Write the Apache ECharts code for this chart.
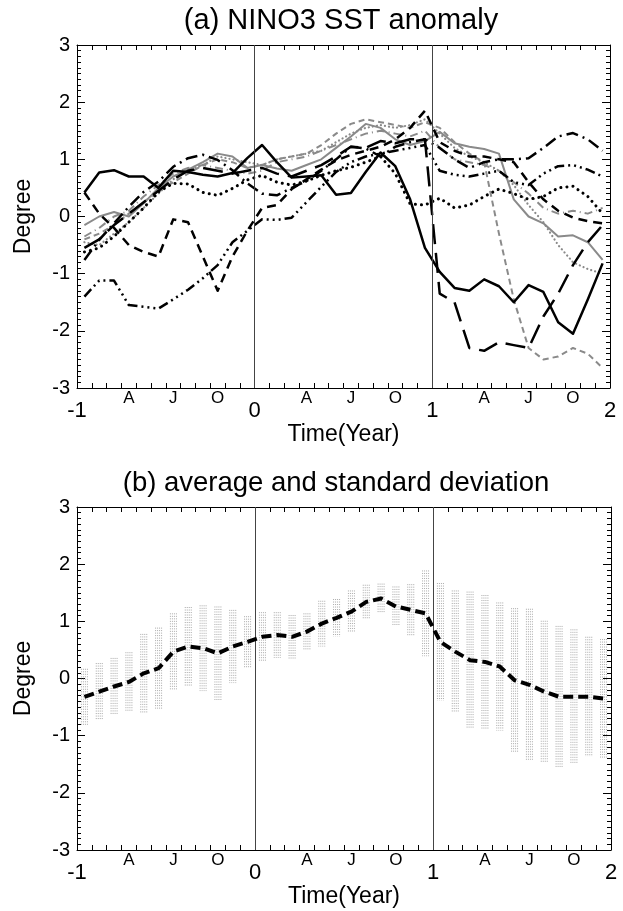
<!DOCTYPE html>
<html>
<head>
<meta charset="utf-8">
<script src="https://cdn.jsdelivr.net/npm/echarts@6/dist/echarts.min.js"></script>
<style>
html,body{margin:0;padding:0;background:#fff;}
#chart{width:623px;height:911px;}
</style>
</head>
<body>
<div id="chart"></div>
<script>
// ---------- data (monthly, 36 months from Jan of year -1) ----------
const yearLabels = ['-1', '0', '1', '2'];
const monthLabels = { 3.5: 'A', 6.5: 'J', 9.5: 'O' };
const yearBoundaries = [12, 24];

// (a) individual events
const solidBlack = [0.42,0.77,0.81,0.70,0.70,0.50,0.80,0.78,0.73,0.70,0.76,1.02,1.25,0.95,0.68,0.70,0.72,0.38,0.41,0.78,1.12,0.88,0.30,-0.55,-0.97,-1.25,-1.30,-1.10,-1.22,-1.50,-1.20,-1.32,-1.85,-2.05,-1.45,-0.82];
const dashedBlack = [0.42,0.05,-0.20,-0.50,-0.62,-0.70,-0.05,-0.10,-0.70,-1.30,-0.70,-0.25,0.15,0.20,0.48,0.65,0.82,0.98,1.08,1.15,1.22,1.35,1.55,1.85,1.30,1.15,1.05,1.05,1.00,0.95,0.60,0.30,0.10,-0.02,-0.08,-0.12];
const dottedBlack = [-0.62,-0.55,-0.35,-0.10,0.15,0.43,0.58,0.57,0.42,0.37,0.49,0.64,0.72,0.60,0.55,0.62,0.72,0.80,0.86,0.95,1.05,0.75,0.22,0.20,0.32,0.15,0.20,0.35,0.48,0.40,0.30,0.35,0.50,0.53,0.35,0.05];
const dashDotBlack = [-0.76,-0.41,-0.12,0.17,0.43,0.61,0.87,1.02,1.08,0.99,0.81,0.58,0.40,0.37,0.50,0.62,0.80,1.00,1.22,1.19,1.05,1.22,1.30,1.35,1.20,1.00,0.85,0.95,1.00,1.00,1.02,1.20,1.40,1.46,1.35,1.15];
const dashDotDotBlack = [-1.40,-1.12,-1.12,-1.55,-1.58,-1.61,-1.45,-1.28,-1.08,-0.85,-0.45,-0.25,-0.05,-0.06,-0.02,0.25,0.52,0.78,0.95,1.05,1.10,1.15,1.20,1.25,0.80,0.73,0.70,0.75,0.80,0.60,0.55,0.75,0.88,0.90,0.82,0.70];
const longDashBlack = [-0.55,-0.40,-0.15,0.05,0.25,0.45,0.65,0.80,0.85,0.80,0.75,0.80,0.85,0.75,0.70,0.80,0.90,1.05,1.22,1.20,1.32,1.28,1.35,1.35,-1.35,-1.50,-2.30,-2.35,-2.20,-2.25,-2.30,-1.75,-1.35,-0.85,-0.45,-0.15];
const solidGray = [-0.15,0.00,0.08,0.00,0.23,0.50,0.70,0.82,0.95,1.10,1.05,0.85,0.90,0.84,0.80,0.90,1.00,1.20,1.40,1.62,1.55,1.35,1.25,1.32,1.48,1.28,1.22,1.18,1.10,0.30,0.00,-0.12,-0.35,-0.33,-0.45,-0.76];
const dashedGray = [-0.40,-0.30,-0.15,0.05,0.25,0.45,0.60,0.75,0.90,1.00,0.95,0.85,0.90,1.00,1.05,1.10,1.25,1.45,1.62,1.70,1.65,1.60,1.55,1.65,1.55,1.30,1.10,0.95,-0.30,-1.45,-2.30,-2.50,-2.45,-2.30,-2.40,-2.65];
const dottedGray = [-0.45,-0.50,-0.30,-0.10,0.15,0.40,0.65,0.80,0.90,1.05,1.00,0.95,0.90,1.00,1.05,1.10,1.15,1.30,1.45,1.55,1.60,1.55,1.60,1.70,1.45,1.20,1.05,0.95,0.80,0.55,0.20,-0.10,-0.50,-0.80,-0.92,-1.00];
const dashDotGray = [-0.35,-0.20,0.00,0.10,0.35,0.55,0.75,0.85,0.90,0.85,0.80,0.75,0.80,0.95,1.00,1.05,1.15,1.25,1.35,1.45,1.50,1.45,1.40,1.50,1.20,1.00,0.95,0.90,0.80,0.60,0.40,0.15,0.05,0.10,0.05,0.15];

// (b) composite mean and standard deviation
const meanAnom = [-0.32,-0.23,-0.14,-0.06,0.09,0.18,0.47,0.56,0.53,0.44,0.56,0.64,0.73,0.76,0.73,0.82,0.96,1.06,1.17,1.34,1.40,1.26,1.20,1.14,0.64,0.47,0.32,0.29,0.21,-0.03,-0.11,-0.23,-0.32,-0.32,-0.32,-0.35];
const stdAnom = [0.49,0.50,0.50,0.52,0.69,0.71,0.67,0.69,0.75,0.82,0.64,0.45,0.43,0.40,0.38,0.32,0.40,0.33,0.37,0.30,0.26,0.35,0.45,0.75,1.03,1.07,1.20,1.17,1.12,1.26,1.33,1.24,1.24,1.18,1.05,1.04];

// ---------- layout ----------
const FONT = 'Liberation Sans, Arial, Helvetica, sans-serif';
const toPts = arr => arr.map((v, i) => [i + 0.5, v]);

const grids = [
  { left: 77, top: 45, width: 533, height: 343 },
  { left: 77, top: 507, width: 534, height: 343 }
];

const xAxes = [], yAxes = [];
grids.forEach((g, gi) => {
  xAxes.push({ gridIndex: gi, type: 'value', min: 0, max: 36, interval: 1, position: 'bottom',
    axisLine: { show: true, onZero: false, lineStyle: { color: '#000', width: 1 } },
    axisTick: { show: true, inside: true, length: 5, lineStyle: { color: '#000', width: 1 } },
    axisLabel: { show: false }, splitLine: { show: false } });
  xAxes.push({ gridIndex: gi, type: 'value', min: 0, max: 36, interval: 1, position: 'top',
    axisLine: { show: true, onZero: false, lineStyle: { color: '#000', width: 1 } },
    axisTick: { show: true, inside: true, length: 5, lineStyle: { color: '#000', width: 1 } },
    axisLabel: { show: false }, splitLine: { show: false } });
  xAxes.push({ gridIndex: gi, type: 'value', min: 0, max: 36, interval: 12, position: 'bottom',
    axisLine: { show: false }, axisTick: { show: false }, splitLine: { show: false },
    axisLabel: { show: true, margin: 12, fontSize: 22, color: '#000', fontFamily: FONT,
      formatter: v => yearLabels[Math.round(v / 12)] },
    name: 'Time(Year)', nameLocation: 'middle', nameGap: 35,
    nameTextStyle: { fontSize: 23, color: '#000', fontFamily: FONT } });
  xAxes.push({ gridIndex: gi, type: 'value', min: 0, max: 36, interval: 0.5, position: 'bottom',
    axisLine: { show: false }, axisTick: { show: false }, splitLine: { show: false },
    axisLabel: { show: true, margin: 2, fontSize: 17, color: '#000', fontFamily: FONT,
      formatter: v => { const m = Math.round((v % 12) * 2) / 2; return monthLabels[m] || ''; } } });

  yAxes.push({ gridIndex: gi, type: 'value', min: -3, max: 3, interval: 1, position: 'left',
    axisLine: { show: true, onZero: false, lineStyle: { color: '#000', width: 1 } },
    axisTick: { show: true, inside: true, length: 8, lineStyle: { color: '#000', width: 1 } },
    minorTick: { show: true, splitNumber: 10, length: 4, lineStyle: { color: '#000', width: 1 } },
    axisLabel: { show: true, margin: 7, fontSize: 20, color: '#000', fontFamily: FONT },
    splitLine: { show: false },
    name: 'Degree', nameLocation: 'middle', nameGap: 42, nameRotate: 90,
    nameTextStyle: { fontSize: 23, color: '#000', fontFamily: FONT } });
  yAxes.push({ gridIndex: gi, type: 'value', min: -3, max: 3, interval: 1, position: 'right',
    axisLine: { show: true, onZero: false, lineStyle: { color: '#000', width: 1 } },
    axisTick: { show: true, inside: true, length: 8, lineStyle: { color: '#000', width: 1 } },
    minorTick: { show: true, splitNumber: 10, length: 4, lineStyle: { color: '#000', width: 1 } },
    axisLabel: { show: false }, splitLine: { show: false } });
});

function lineSeries(data, color, width, type, cap, gi, z) {
  return {
    type: 'line', xAxisIndex: gi * 4, yAxisIndex: gi * 2, data: toPts(data),
    showSymbol: false, symbol: 'none', smooth: false, z: z || 3, animation: false,
    lineStyle: { color: color, width: width, type: type, cap: cap || 'butt', join: 'round' }
  };
}

const yearLineMark = (gi) => ({
  type: 'line', xAxisIndex: gi * 4, yAxisIndex: gi * 2, data: [], symbol: 'none', z: 1,
  markLine: { symbol: 'none', silent: true, animation: false, label: { show: false },
    lineStyle: { color: '#444', width: 1, type: 'solid' },
    data: yearBoundaries.map(b => ({ xAxis: b })) }
});

const GRAY = '#8a8a8a';
const series = [
  yearLineMark(0),
  lineSeries(solidGray, GRAY, 2, 'solid', 'butt', 0, 2),
  lineSeries(dashedGray, GRAY, 2, [6, 4], 'butt', 0, 2),
  lineSeries(dottedGray, GRAY, 2.2, [0.1, 4], 'round', 0, 2),
  lineSeries(dashDotGray, GRAY, 2, [8, 4, 1, 4], 'butt', 0, 2),
  lineSeries(solidBlack, '#000', 2.5, 'solid', 'butt', 0, 4),
  lineSeries(dashedBlack, '#000', 2.5, [9, 6], 'butt', 0, 4),
  lineSeries(dottedBlack, '#000', 3, [0.1, 6], 'round', 0, 4),
  lineSeries(dashDotBlack, '#000', 2.5, [12, 5, 2, 5], 'butt', 0, 4),
  lineSeries(dashDotDotBlack, '#000', 2.5, [10, 4, 2, 4, 2, 4, 2, 4], 'butt', 0, 4),
  lineSeries(longDashBlack, '#000', 2.5, [20, 9], 'butt', 0, 4),
  yearLineMark(1),
  {
    type: 'custom', xAxisIndex: 4, yAxisIndex: 2, z: 2, animation: false,
    data: meanAnom.map((m, i) => [i + 0.5, m, stdAnom[i]]),
    encode: { x: 0, y: 1 },
    renderItem: function (params, api) {
      const x = api.value(0), m = api.value(1), s = api.value(2);
      const top = api.coord([x, m + s]);
      const bot = api.coord([x, m - s]);
      const children = [-3, -1, 1, 3].map(dx => ({
        type: 'line',
        shape: { x1: top[0] + dx, y1: top[1], x2: bot[0] + dx, y2: bot[1] },
        style: { stroke: '#a8a8a8', lineWidth: 1, lineDash: [1, 1.5] }
      }));
      return { type: 'group', children: children };
    }
  },
  lineSeries(meanAnom, '#000', 4, [10, 5], 'butt', 1, 5)
];

const chart = echarts.init(document.getElementById('chart'), null, { renderer: 'canvas' });
chart.setOption({
  animation: false,
  backgroundColor: '#fff',
  textStyle: { fontFamily: FONT },
  title: [
    { text: '(a) NINO3 SST anomaly', left: 341, top: 6, textAlign: 'center', padding: 0,
      textStyle: { fontSize: 29, fontWeight: 'normal', color: '#000', fontFamily: FONT } },
    { text: '(b) average and standard deviation', left: 336, top: 469, textAlign: 'center', padding: 0,
      textStyle: { fontSize: 27.5, fontWeight: 'normal', color: '#000', fontFamily: FONT } }
  ],
  grid: grids,
  xAxis: xAxes,
  yAxis: yAxes,
  series: series
});
</script>
</body>
</html>
